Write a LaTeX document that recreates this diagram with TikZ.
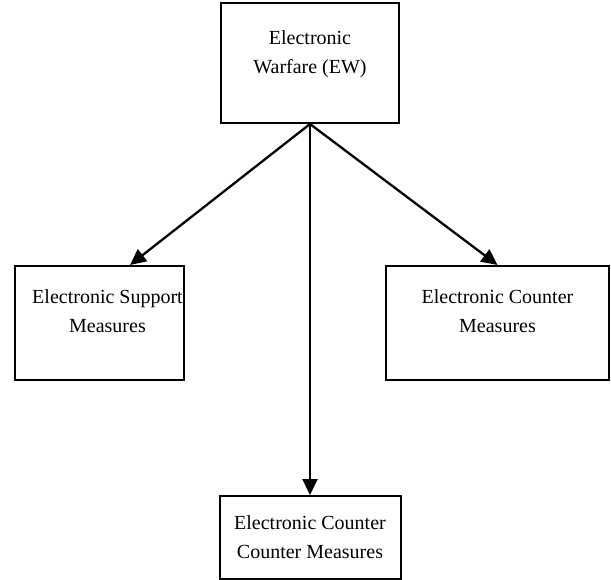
\documentclass[tikz,border=0pt]{standalone}
\usepackage{fontspec}
\setmainfont{Liberation Serif}
\usetikzlibrary{arrows.meta,calc}
\tikzset{
  box/.style={draw, line width=2pt, inner sep=0pt},
  boxtext/.style={anchor=north, align=center, inner sep=0pt,
    font=\fontsize{20}{29.5}\selectfont},
  link/.style={line width=2.3pt, -{Triangle[length=16pt,width=15pt]}}
}
\begin{document}
\begin{tikzpicture}[x=1pt,y=-1pt]
  \useasboundingbox (0,0) rectangle (611,580);
  % boxes
  \node[box, minimum width=178pt, minimum height=120pt] (ew)   at (310,63)    {};
  \node[box, minimum width=169pt, minimum height=114pt] (esm)  at (99.5,323)  {};
  \node[box, minimum width=223pt, minimum height=114pt] (ecm)  at (497.5,323) {};
  \node[box, minimum width=181pt, minimum height=83pt]  (eccm) at (310,537.5) {};
  % labels
  \node[boxtext] at ([yshift=-28pt]ew.north)   {Electronic\\Warfare (EW)};
  \node[boxtext] at ([xshift=8pt,yshift=-24pt]esm.north)  {Electronic Support\\Measures};
  \node[boxtext] at ([yshift=-24pt]ecm.north)  {Electronic Counter\\Measures};
  \node[boxtext] at ([yshift=-20pt]eccm.north) {Electronic Counter\\Counter Measures};
  % connectors
  \coordinate (src) at (ew.south);
  \coordinate (esmin) at ([xshift=30.5pt]esm.north);
  \draw[link] (src) -- (esmin);
  \draw[link] (src) -- (ecm.north);
  \draw[link] (src) -- (eccm.north);
\end{tikzpicture}
\end{document}
